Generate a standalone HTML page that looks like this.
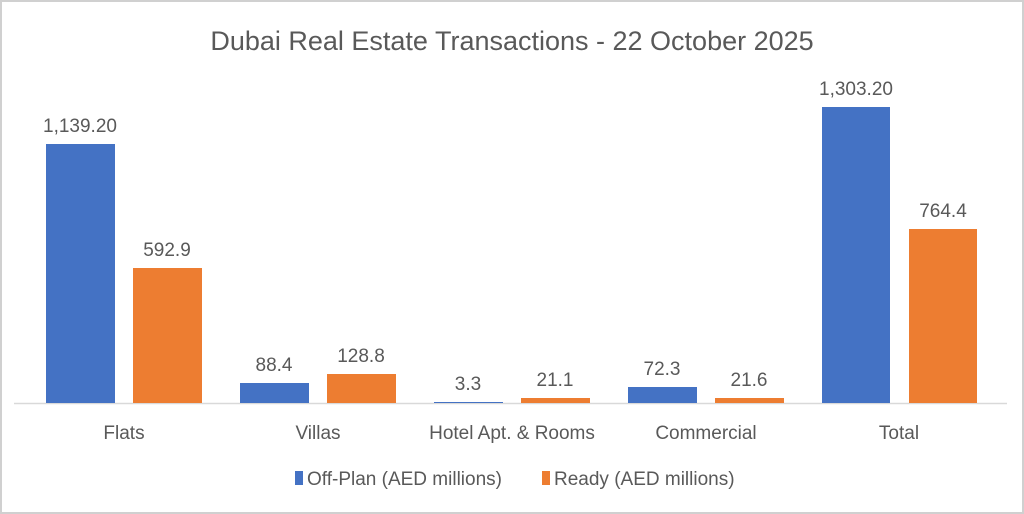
<!DOCTYPE html>
<html><head><meta charset="utf-8"><style>
html,body{margin:0;padding:0;background:#fff}
svg{display:block}
text{font-family:"Liberation Sans",sans-serif;fill:#595959}
</style></head><body>
<svg width="1024" height="514" viewBox="0 0 1024 514">
<rect x="1" y="1" width="1022" height="512" fill="#fff" stroke="#d0d0d0" stroke-width="2"/>
<text x="512" y="50" font-size="27" text-anchor="middle">Dubai Real Estate Transactions - 22 October 2025</text>
<line x1="14" y1="403.5" x2="1007" y2="403.5" stroke="#d9d9d9" stroke-width="1.5"/>
<g fill="#4472c4">
<rect x="46" y="144" width="69" height="259"/>
<rect x="240" y="383" width="69" height="20"/>
<rect x="434" y="402" width="69" height="1"/>
<rect x="628" y="387" width="69" height="16"/>
<rect x="822" y="107" width="68" height="296"/>
</g>
<g fill="#ed7d31">
<rect x="133" y="268" width="69" height="135"/>
<rect x="327" y="374" width="69" height="29"/>
<rect x="521" y="398" width="69" height="5"/>
<rect x="715" y="398" width="69" height="5"/>
<rect x="909" y="229" width="68" height="174"/>
</g>
<g font-size="19" text-anchor="middle">
<text x="80" y="132">1,139.20</text>
<text x="167" y="256">592.9</text>
<text x="274" y="371">88.4</text>
<text x="361" y="362">128.8</text>
<text x="468" y="390">3.3</text>
<text x="555" y="386">21.1</text>
<text x="662" y="375">72.3</text>
<text x="749" y="386">21.6</text>
<text x="856" y="95">1,303.20</text>
<text x="943" y="217">764.4</text>
</g>
<g font-size="19" text-anchor="middle">
<text x="124" y="439">Flats</text>
<text x="318" y="439">Villas</text>
<text x="512" y="439">Hotel Apt. &amp; Rooms</text>
<text x="706" y="439">Commercial</text>
<text x="899" y="439">Total</text>
</g>
<rect x="295" y="471" width="8" height="14" fill="#4472c4"/>
<text x="307" y="485" font-size="19">Off-Plan (AED millions)</text>
<rect x="542" y="471" width="8" height="14" fill="#ed7d31"/>
<text x="554" y="485" font-size="19">Ready (AED millions)</text>
</svg>
</body></html>
